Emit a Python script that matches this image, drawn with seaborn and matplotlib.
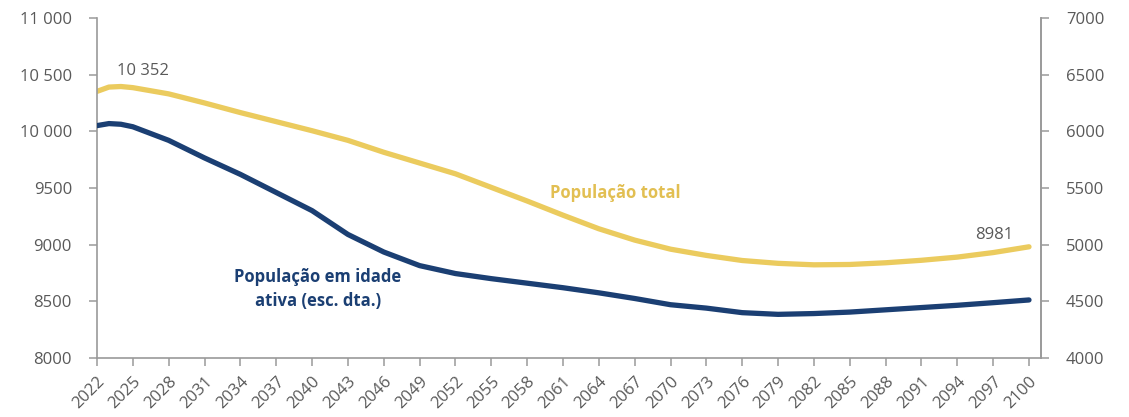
import matplotlib
matplotlib.use("Agg")
import matplotlib.pyplot as plt
import seaborn as sns
import pandas as pd

# Projected resident population (thousands)
years = [2022, 2023, 2024, 2025, 2028, 2031, 2034, 2037, 2040, 2043, 2046,
         2049, 2052, 2055, 2058, 2061, 2064, 2067, 2070, 2073, 2076, 2079,
         2082, 2085, 2088, 2091, 2094, 2097, 2100]

pop_total = [10352, 10390, 10395, 10385, 10330, 10250, 10165, 10085, 10005,
             9920, 9815, 9720, 9625, 9505, 9385, 9260, 9140, 9040, 8960,
             8905, 8860, 8835, 8822, 8825, 8840, 8862, 8890, 8930, 8981]

# Working-age population (thousands), right axis
pop_working = [6050, 6068, 6062, 6040, 5920, 5765, 5620, 5460, 5300, 5090,
               4935, 4815, 4745, 4700, 4660, 4620, 4575, 4525, 4470, 4440,
               4400, 4385, 4392, 4405, 4425, 4445, 4465, 4488, 4512]

tick_years = list(range(2022, 2101, 3))
left_ticks = [8000, 8500, 9000, 9500, 10000, 10500, 11000]
right_ticks = [4000, 4500, 5000, 5500, 6000, 6500, 7000]

GOLD = "#EBCB5E"
NAVY = "#1B3F73"
GREY_TXT = "#595959"
GREY_AX = "#9a9a9a"

sns.set_theme(style="white")
plt.rcParams["font.family"] = ["Open Sans", "DejaVu Sans"]

df = pd.DataFrame({"ano": years, "total": pop_total, "ativa": pop_working})

fig = plt.figure(figsize=(11.29, 4.17), dpi=100)
ax = fig.add_axes([0.0859, 0.1415, 0.8361, 0.8155])
ax2 = ax.twinx()

sns.lineplot(data=df, x="ano", y="total", ax=ax, color=GOLD, linewidth=3.8,
             solid_capstyle="round")
sns.lineplot(data=df, x="ano", y="ativa", ax=ax2, color=NAVY, linewidth=3.8,
             solid_capstyle="round")

ax.set_xlim(2022, 2101)
ax.set_ylim(8000, 11000)
ax2.set_ylim(4000, 7000)


def fmt_pt(v):
    v = int(v)
    if v >= 10000:
        return f"{v // 1000} {v % 1000:03d}"
    return str(v)


ax.set_yticks(left_ticks)
ax.set_yticklabels([fmt_pt(v) for v in left_ticks])
ax2.set_yticks(right_ticks)
ax2.set_yticklabels([str(v) for v in right_ticks])
ax.set_xticks(tick_years)
ax.set_xticklabels([str(y) for y in tick_years], rotation=45, ha="right",
                   rotation_mode="anchor")

for a in (ax, ax2):
    a.set_xlabel("")
    a.set_ylabel("")
    a.spines["top"].set_visible(False)
    for s in ("left", "right", "bottom"):
        a.spines[s].set_color(GREY_AX)
        a.spines[s].set_linewidth(1.2)
    a.grid(False)

ax.tick_params(axis="y", which="both", left=True, length=6, width=1.1,
               color=GREY_AX, labelsize=12, labelcolor=GREY_TXT, pad=12)
ax.tick_params(axis="x", which="both", bottom=True, length=6, width=1.1,
               color=GREY_AX, labelsize=12, labelcolor=GREY_TXT, pad=5)
ax2.tick_params(axis="y", which="both", right=True, length=6, width=1.1,
                color=GREY_AX, labelsize=12, labelcolor=GREY_TXT, pad=12)
ax2.spines["left"].set_visible(False)
ax2.spines["bottom"].set_visible(False)

# Value labels at the series ends
ax.annotate(fmt_pt(pop_total[0]), xy=(years[0], pop_total[0]),
            xytext=(33, 9), textcoords="offset points", ha="center",
            va="bottom", fontsize=12, color=GREY_TXT)
ax.annotate(fmt_pt(pop_total[-1]), xy=(years[-1], pop_total[-1]),
            xytext=(-25, 3), textcoords="offset points", ha="center",
            va="bottom", fontsize=12, color=GREY_TXT)

# Series labels
ax.text(2065.4, 9456, "População total", color="#E2BF52", fontsize=12,
        fontweight="bold", ha="center", va="center")
ax.text(2040.5, 8609, "População em idade\nativa (esc. dta.)", color=NAVY,
        fontsize=12, fontweight="bold", ha="center", va="center",
        linespacing=1.4)

fig.savefig("out.png", dpi=100, facecolor="white")
